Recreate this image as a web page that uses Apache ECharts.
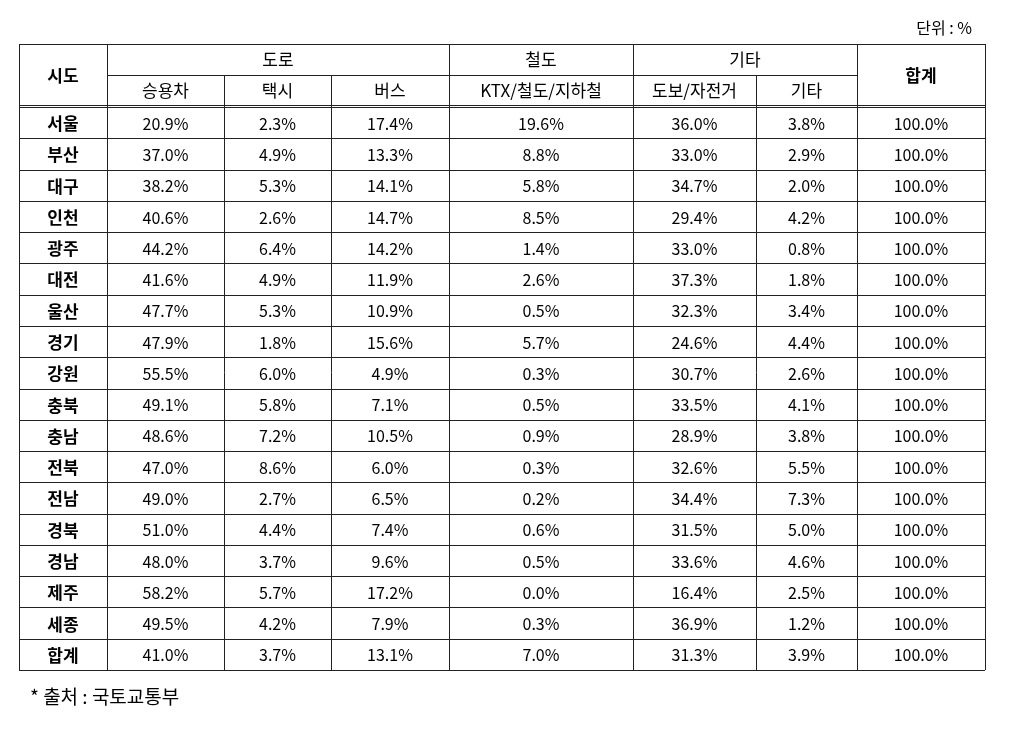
<!DOCTYPE html>
<html><head><meta charset="utf-8">
<script src="https://cdn.jsdelivr.net/npm/echarts@6/dist/echarts.min.js"></script>
<style>html,body{margin:0;background:#fff}#c{width:1012px;height:733px}</style>
</head><body><div id="c"></div>
<script>
const regions = ['서울','부산','대구','인천','광주','대전','울산','경기','강원','충북','충남','전북','전남','경북','경남','제주','세종','합계'];
const car   = [20.9,37.0,38.2,40.6,44.2,41.6,47.7,47.9,55.5,49.1,48.6,47.0,49.0,51.0,48.0,58.2,49.5,41.0];
const taxi  = [2.3,4.9,5.3,2.6,6.4,4.9,5.3,1.8,6.0,5.8,7.2,8.6,2.7,4.4,3.7,5.7,4.2,3.7];
const bus   = [17.4,13.3,14.1,14.7,14.2,11.9,10.9,15.6,4.9,7.1,10.5,6.0,6.5,7.4,9.6,17.2,7.9,13.1];
const rail  = [19.6,8.8,5.8,8.5,1.4,2.6,0.5,5.7,0.3,0.5,0.9,0.3,0.2,0.6,0.5,0.0,0.3,7.0];
const walk  = [36.0,33.0,34.7,29.4,33.0,37.3,32.3,24.6,30.7,33.5,28.9,32.6,34.4,31.5,33.6,16.4,36.9,31.3];
const other = [3.8,2.9,2.0,4.2,0.8,1.8,3.4,4.4,2.6,4.1,3.8,5.5,7.3,5.0,4.6,2.5,1.2,3.9];
const total = [100.0,100.0,100.0,100.0,100.0,100.0,100.0,100.0,100.0,100.0,100.0,100.0,100.0,100.0,100.0,100.0,100.0,100.0];
const groupHeaders = [['도로',1,3],['철도',4,4],['기타',5,6]];
const subHeaders = ['승용차','택시','버스','KTX/철도/지하철','도보/자전거','기타'];
const unitText = '단위 : %';
const sourceText = '* 출처 : 국토교통부';

const colX = [19,107,224,331,449,633,756,857,985];
const tTop = 44, tMid = 75, tHb = 107, tBottom = 670;
const rowH = (tBottom-tHb)/regions.length;
const F = '"Noto Sans CJK KR", "Noto Sans", sans-serif';
const els = [];
const line = (x1,y1,x2,y2,w)=>els.push({type:'line',shape:{x1,y1,x2,y2},style:{stroke:'#222',lineWidth:w||1}});
const text = (x,y,t,opt)=>els.push({type:'text',x,y,style:Object.assign({text:t,fill:'#000',font:'16px '+F,align:'center',verticalAlign:'middle'},opt||{})});
const cx = i=>(colX[i]+colX[i+1])/2;

line(colX[0],tTop+0.5,colX[8],tTop+0.5);
line(colX[0],tBottom+0.5,colX[8],tBottom+0.5);
line(colX[1],tMid+0.5,colX[7],tMid+0.5);
line(colX[0],tHb-1.5,colX[8],tHb-1.5); line(colX[0],tHb+0.5,colX[8],tHb+0.5);
for(let r=1;r<regions.length;r++){const y=Math.round(tHb+r*rowH)+0.5;line(colX[0],y,colX[8],y);}
colX.forEach((x,i)=>{
  if(i===0||i===1||i===4||i===5||i===7||i===8) line(x+0.5,tTop,x+0.5,tBottom);
  else line(x+0.5,tMid,x+0.5,tBottom);
});
text(cx(0),(tTop+tHb)/2,'시도',{font:'bold 17px '+F});
text(cx(7),(tTop+tHb)/2,'합계',{font:'bold 17px '+F});
groupHeaders.forEach(([t,a,b])=>text((colX[a]+colX[b+1])/2,(tTop+tMid)/2,t,{font:'17px '+F}));
subHeaders.forEach((t,i)=>text(cx(i+1),(tMid+tHb)/2,t,{font:'17px '+F}));
const cols=[car,taxi,bus,rail,walk,other,total];
regions.forEach((r,k)=>{
  const y=tHb+rowH*(k+0.5)+1;
  text(cx(0),y,r,{font:'bold 17px '+F});
  cols.forEach((arr,j)=>text(cx(j+1),y,arr[k].toFixed(1)+'%',{font:'16px '+F}));
});
text(972,28,unitText,{align:'right',font:'16px '+F});
text(30,697,sourceText,{align:'left',font:'19px '+F});

const chart=echarts.init(document.getElementById('c'));
chart.setOption({animation:false,backgroundColor:'#fff',graphic:els});
</script></body></html>
